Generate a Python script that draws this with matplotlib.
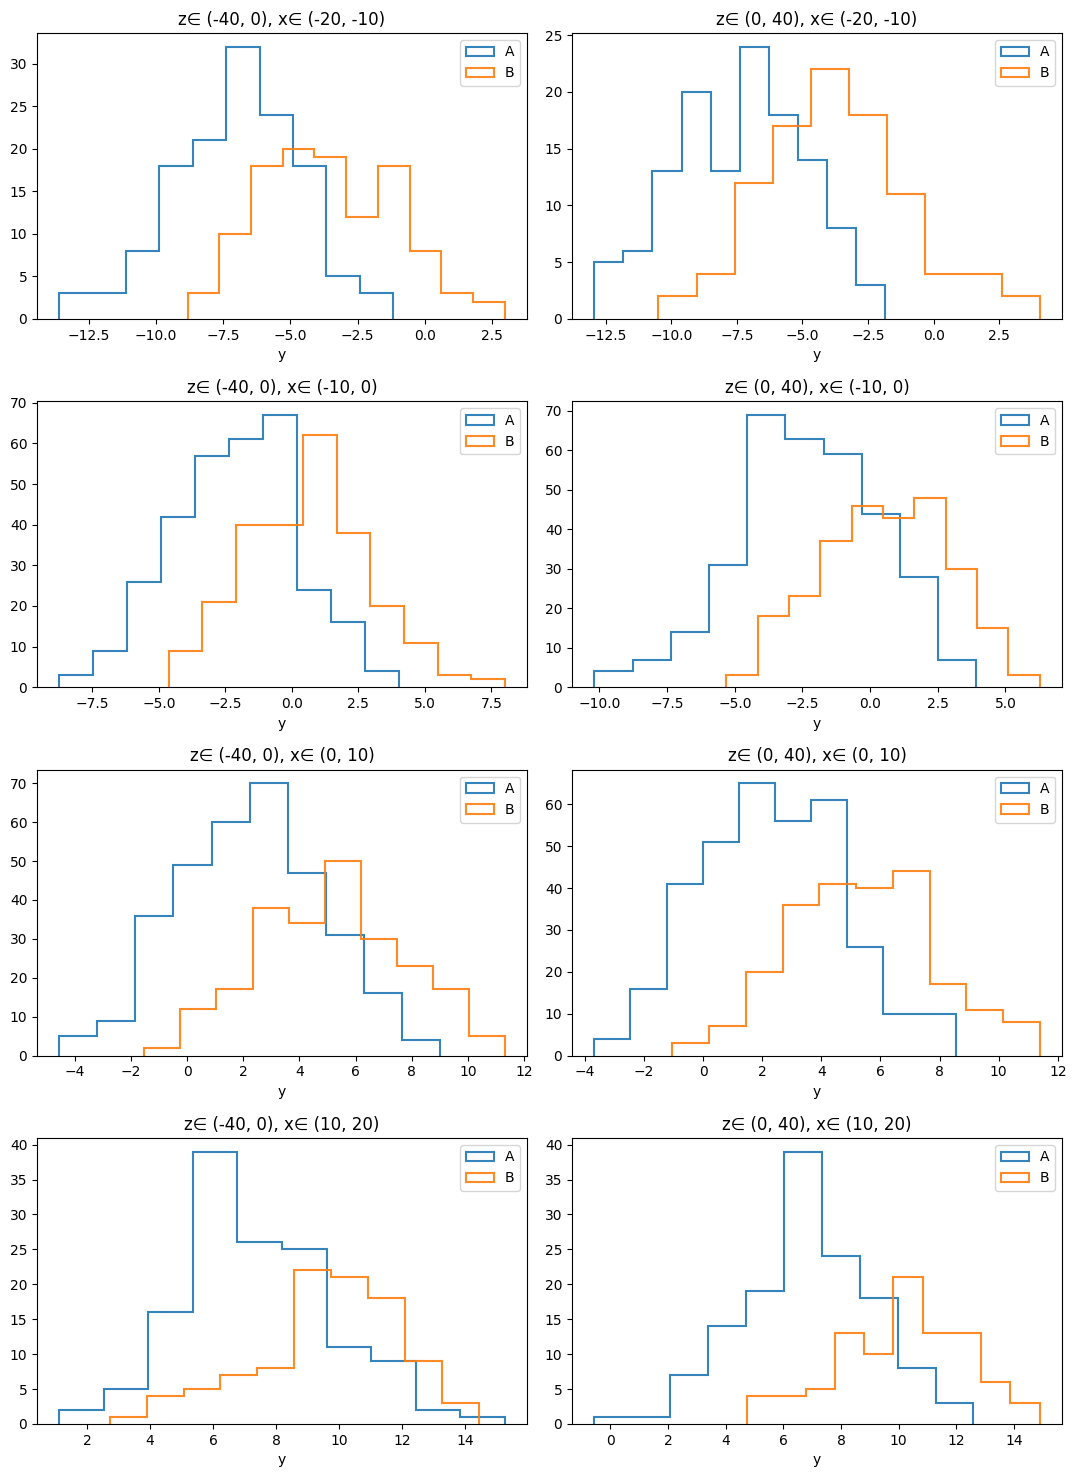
import numpy as np
import matplotlib
matplotlib.use("Agg")
import matplotlib.pyplot as plt

z_ranges = ["(-40, 0)", "(0, 40)"]
x_ranges = ["(-20, -10)", "(-10, 0)", "(0, 10)", "(10, 20)"]

# per panel (row-major: row = x range, col = z range), 10 bins each
A_ranges = [(-13.59, -1.18), (-12.93, -1.86),
            (-8.74, 4.01), (-10.19, 3.93),
            (-4.55, 9.00), (-3.68, 8.54),
            (1.12, 15.25), (-0.55, 12.59)]
A_counts = [[3, 3, 8, 18, 21, 32, 24, 18, 5, 3],
            [5, 6, 13, 20, 13, 24, 18, 14, 8, 3],
            [3, 9, 26, 42, 57, 61, 67, 24, 16, 4],
            [4, 7, 14, 31, 69, 63, 59, 44, 28, 7],
            [5, 9, 36, 49, 60, 70, 47, 31, 16, 4],
            [4, 16, 41, 51, 65, 56, 61, 26, 10, 10],
            [2, 5, 16, 39, 26, 25, 11, 9, 2, 1],
            [1, 1, 7, 14, 19, 39, 24, 18, 8, 3]]
B_ranges = [(-8.82, 2.97), (-10.49, 4.04),
            (-4.63, 8.00), (-5.31, 6.27),
            (-1.52, 11.31), (-1.04, 11.39),
            (2.72, 14.43), (4.74, 14.89)]
B_counts = [[3, 10, 18, 20, 19, 12, 18, 8, 3, 2],
            [2, 4, 12, 17, 22, 18, 11, 4, 4, 2],
            [9, 21, 40, 40, 62, 38, 20, 11, 3, 2],
            [3, 18, 23, 37, 46, 43, 48, 30, 15, 3],
            [2, 12, 17, 38, 34, 50, 30, 23, 17, 5],
            [3, 7, 20, 36, 41, 40, 44, 17, 11, 8],
            [1, 4, 5, 7, 8, 22, 21, 18, 9, 3],
            [4, 4, 5, 13, 10, 21, 13, 13, 6, 3]]
series_labels = ["A", "B"]

fig, axes = plt.subplots(4, 2, figsize=(10.77, 14.77), dpi=100)
fig.subplots_adjust(left=0.0344, right=0.9861, top=0.9777, bottom=0.0359,
                    wspace=0.092, hspace=0.288)

for i, ax in enumerate(axes.flat):
    r, c = divmod(i, 2)
    for rng, cnt, lab in ((A_ranges[i], A_counts[i], series_labels[0]),
                          (B_ranges[i], B_counts[i], series_labels[1])):
        edges = np.linspace(rng[0], rng[1], len(cnt) + 1)
        centers = 0.5 * (edges[:-1] + edges[1:])
        ax.hist(centers, bins=edges, weights=cnt, histtype="step",
                label=lab, linewidth=1.5, alpha=0.9)
    ax.set_title(f"z\u2208 {z_ranges[c]}, x\u2208 {x_ranges[r]}")
    ax.set_xlabel("y")
    ax.legend(loc="upper right")

fig.savefig("out.png", dpi=100)
